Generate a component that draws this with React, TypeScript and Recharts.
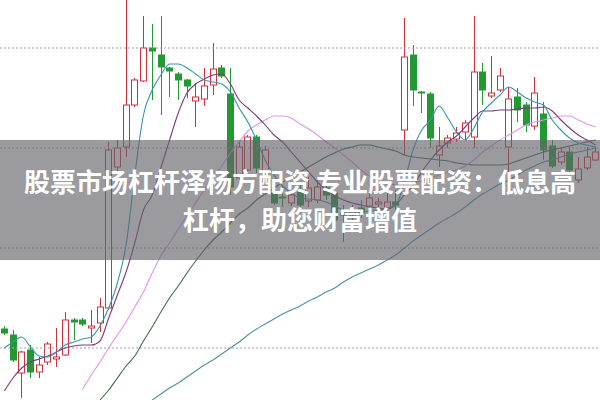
import React from "react";
import { ComposedChart, Bar, Line, XAxis, YAxis, ReferenceLine } from "recharts";

const RED = "#d0303c";
const GREEN = "#229933";

const opens = [
  10.71, 10.65, 10.27, 10.5, 10.28, 10.38, 10.41, 10.45, 10.8, 10.8,
  10.72, 10.77, 10.92, 12.33, 12.53, 12.95, 13.19, 13.52, 13.45, 13.32,
  13.26, 13.2, 12.99, 13.01, 13.15, 13.32, 13.06, 12.22, 12.3, 12.63,
  12.28, 12.07, 12.03, 11.97, 12.08, 11.99, 12.0, 12.12, 12.07, 11.87,
  11.85, 11.92, 11.94, 11.96, 11.92, 11.98, 12.7, 13.45, 13.08, 13.06,
  12.45, 12.57, 12.61, 12.68, 12.63, 13.28, 13.04, 13.1, 12.53, 13.03,
  12.95, 12.74, 12.86, 12.54, 12.38, 12.48, 12.2, 12.32, 12.4,
];
const highs = [
  10.74, 10.7, 10.49, 10.55, 10.43, 10.58, 10.72, 10.88, 10.82, 10.82,
  10.9, 11.02, 12.58, 12.6, 14.0, 13.22, 13.84, 13.76, 13.84, 13.33,
  13.28, 13.21, 13.17, 13.32, 13.57, 13.35, 13.32, 12.6, 12.65, 12.65,
  12.54, 12.12, 12.15, 12.1, 12.17, 12.23, 12.22, 12.15, 12.08, 11.95,
  11.95, 12.0, 12.1, 12.02, 12.07, 12.1, 13.82, 13.55, 13.09, 13.08,
  12.73, 12.65, 12.73, 12.8, 13.84, 13.37, 13.44, 13.32, 13.13, 13.12,
  12.98, 13.23, 12.98, 12.6, 12.53, 12.53, 12.43, 12.53, 12.53,
];
const lows = [
  10.65, 10.38, 10.02, 10.22, 10.22, 10.35, 10.33, 10.44, 10.6, 10.74,
  10.57, 10.68, 10.9, 12.28, 12.43, 12.93, 13.18, 13.0, 12.85, 13.03,
  13.0, 13.02, 12.73, 12.94, 13.05, 13.22, 12.05, 12.2, 12.28, 12.27,
  12.25, 11.95, 11.93, 11.94, 11.93, 11.93, 11.97, 12.0, 11.68, 11.58,
  11.78, 11.82, 11.9, 11.92, 11.9, 11.9, 12.45, 12.94, 12.87, 12.52,
  12.33, 12.52, 12.58, 12.6, 12.52, 12.95, 13.02, 13.08, 12.27, 12.78,
  12.68, 12.7, 12.4, 12.32, 12.35, 12.28, 12.17, 12.3, 12.39,
];
const closes = [
  10.67, 10.4, 10.48, 10.28, 10.35, 10.56, 10.43, 10.8, 10.78, 10.76,
  10.74, 10.93, 12.5, 12.52, 12.95, 13.2, 13.52, 13.49, 13.33, 13.29,
  13.2, 13.14, 13.03, 13.14, 13.31, 13.24, 12.13, 12.53, 12.63, 12.32,
  12.5, 11.97, 12.02, 12.05, 11.95, 12.12, 12.13, 12.05, 11.8, 11.85,
  11.9, 11.87, 12.02, 11.98, 11.98, 11.95, 13.43, 13.1, 13.07, 12.62,
  12.54, 12.62, 12.67, 12.77, 13.28, 13.1, 13.07, 13.24, 13.01, 12.9,
  12.75, 13.07, 12.5, 12.34, 12.48, 12.3, 12.31, 12.43, 12.48,
];

// moving averages
const ma5 = [
  10.52, 10.58, 10.63, 10.53, 10.44, 10.43, 10.48, 10.55, 10.58, 10.61,
  10.63, 10.74, 10.92, 11.17, 11.55, 12.25, 12.85, 13.1, 13.25, 13.36,
  13.36, 13.32, 13.26, 13.2, 13.18, 13.16, 13.08, 12.92, 12.78, 12.6,
  12.4, 12.25, 12.14, 12.07, 12.02, 12.01, 12.0, 11.98, 11.94, 11.9,
  11.88, 11.88, 11.89, 11.9, 11.92, 11.95, 12.18, 12.5, 12.7, 12.8,
  12.94, 12.82, 12.68, 12.6, 12.72, 12.88, 12.97, 13.05, 13.13, 13.08,
  13.02, 12.98, 12.95, 12.8, 12.7, 12.62, 12.57, 12.55, 12.53,
];
const ma10 = [
  10.09, 10.22, 10.32, 10.38, 10.41, 10.44, 10.48, 10.52, 10.54, 10.55,
  10.55, 10.59, 10.82, 11.05, 11.28, 11.57, 11.9, 12.05, 12.32, 12.6,
  12.87, 13.07, 13.16, 13.21, 13.25, 13.26, 13.16, 13.0, 12.92, 12.84,
  12.75, 12.65, 12.58, 12.48, 12.38, 12.28, 12.18, 12.1, 12.04, 12.0,
  11.97, 11.95, 11.93, 11.92, 11.91, 11.95, 12.05, 12.14, 12.28, 12.4,
  12.5, 12.58, 12.64, 12.73, 12.82, 12.89, 12.89, 12.9, 12.9, 12.91,
  12.92, 12.92, 12.93, 12.89, 12.8, 12.72, 12.65, 12.6, 12.55,
];
const ma20 = [
  null, null, null, null, null, null, null, null, null, 10.11,
  10.25, 10.38, 10.52, 10.65, 10.78, 10.93, 11.08, 11.27, 11.44, 11.57,
  11.71, 11.84, 11.97, 12.1, 12.22, 12.34, 12.47, 12.58, 12.69, 12.75,
  12.8, 12.84, 12.84, 12.82, 12.76, 12.71, 12.65, 12.58, 12.52, 12.45,
  12.38, 12.3, 12.24, 12.2, 12.17, 12.15, 12.15, 12.17, 12.19, 12.22,
  12.25, 12.28, 12.3, 12.34, 12.4, 12.48, 12.54, 12.6, 12.65, 12.7,
  12.75, 12.78, 12.8, 12.82, 12.84, 12.84, 12.8, 12.76, 12.73,
];
const ma30 = [
  null, null, null, null, null, null, null, null, null, null,
  null, 10.0, 10.1, 10.22, 10.34, 10.44, 10.59, 10.73, 10.88, 11.02,
  11.14, 11.27, 11.39, 11.5, 11.6, 11.68, 11.77, 11.86, 11.92, 12.0,
  12.06, 12.12, 12.18, 12.23, 12.28, 12.33, 12.38, 12.43, 12.47, 12.51,
  12.53, 12.55, 12.55, 12.53, 12.51, 12.49, 12.45, 12.43, 12.42, 12.41,
  12.4, 12.39, 12.37, 12.36, 12.35, 12.35, 12.35, 12.35, 12.36, 12.39,
  12.42, 12.45, 12.48, 12.5, 12.52, 12.54, 12.56, 12.58, 12.6,
];
const ma60 = [
  null, null, null, null, null, null, null, null, null, null,
  null, null, null, null, null, null, null, 10.0, 10.06, 10.12,
  10.17, 10.23, 10.29, 10.35, 10.4, 10.46, 10.52, 10.58, 10.65, 10.71,
  10.76, 10.81, 10.86, 10.9, 10.94, 10.99, 11.03, 11.08, 11.12, 11.18,
  11.23, 11.27, 11.31, 11.35, 11.4, 11.45, 11.52, 11.59, 11.65, 11.71,
  11.77, 11.82, 11.87, 11.93, 12.0, 12.06, 12.11, 12.16, 12.2, 12.25,
  12.3, 12.34, 12.38, 12.4, 12.43, 12.46, 12.48, 12.5, 12.52,
];

const gridLevels = [13.52, 12.52, 11.52, 10.52];
const titleLines = ["股票市场杠杆泽杨方配资 专业股票配资：低息高", "杠杆，助您财富增值"];

const data = opens.map((open, i) => ({
  idx: i,
  open,
  high: highs[i],
  low: lows[i],
  close: closes[i],
  range: [lows[i], highs[i]],
  ma5: ma5[i],
  ma10: ma10[i],
  ma20: ma20[i],
  ma30: ma30[i],
  ma60: ma60[i],
}));

const Candle = (props: any) => {
  const { x, width, payload } = props;
  let { y, height } = props;
  if (height < 0) {
    y = y + height;
    height = -height;
  }
  const { open, close, high, low } = payload;
  const up = close >= open;
  const color = up ? RED : GREEN;
  const k = height / (high - low || 1);
  const top = y + (high - Math.max(open, close)) * k;
  const bodyH = Math.max(Math.abs(open - close) * k, 1);
  const cx = Math.round(x + width / 2) + 0.5;
  return (
    <g>
      <line x1={cx} x2={cx} y1={y} y2={top} stroke={color} strokeWidth={1} />
      <line x1={cx} x2={cx} y1={top + bodyH} y2={y + height} stroke={color} strokeWidth={1} />
      <rect
        x={cx - 3}
        y={top}
        width={6}
        height={bodyH}
        fill={up ? "#ffffff" : color}
        stroke={color}
        strokeWidth={1}
      />
    </g>
  );
};

export default function App() {
  return (
    <div style={{ position: "absolute", left: 0, top: 0, width: 600, height: 400, background: "#fff", overflow: "hidden" }}>
      <ComposedChart width={600} height={400} data={data} margin={{ top: 0, right: 0, bottom: 0, left: 0 }}>
        <XAxis dataKey="idx" hide />
        <YAxis hide domain={[10, 14]} allowDataOverflow />
        {gridLevels.map((v) => (
          <ReferenceLine key={v} y={v} stroke="#a0a0a0" strokeDasharray="2 2" />
        ))}
        <Bar dataKey="range" barSize={6} shape={<Candle />} isAnimationActive={false} />
        <Line dataKey="ma60" type="monotone" stroke="#4a93a3" strokeWidth={1.1} dot={false} activeDot={false} isAnimationActive={false} />
        <Line dataKey="ma30" type="monotone" stroke="#3c6e50" strokeWidth={1.1} dot={false} activeDot={false} isAnimationActive={false} />
        <Line dataKey="ma20" type="monotone" stroke="#e394ec" strokeWidth={1.1} dot={false} activeDot={false} isAnimationActive={false} />
        <Line dataKey="ma10" type="monotone" stroke="#7a3a80" strokeWidth={1.1} dot={false} activeDot={false} isAnimationActive={false} />
        <Line dataKey="ma5" type="monotone" stroke="#3597a8" strokeWidth={1.1} dot={false} activeDot={false} isAnimationActive={false} />
      </ComposedChart>
      <div
        style={{
          position: "absolute",
          left: 0,
          top: 140,
          width: 600,
          height: 120,
          background: "rgba(100,100,108,0.65)",
          display: "flex",
          flexDirection: "column",
          alignItems: "center",
          justifyContent: "center",
          color: "#fff",
          fontFamily: "'Noto Sans CJK SC', 'Noto Sans', sans-serif",
          fontWeight: 700,
          fontSize: 26,
          lineHeight: "38px",
          whiteSpace: "nowrap",
        }}
      >
        {titleLines.map((t) => (
          <div key={t}>{t}</div>
        ))}
      </div>
    </div>
  );
}
